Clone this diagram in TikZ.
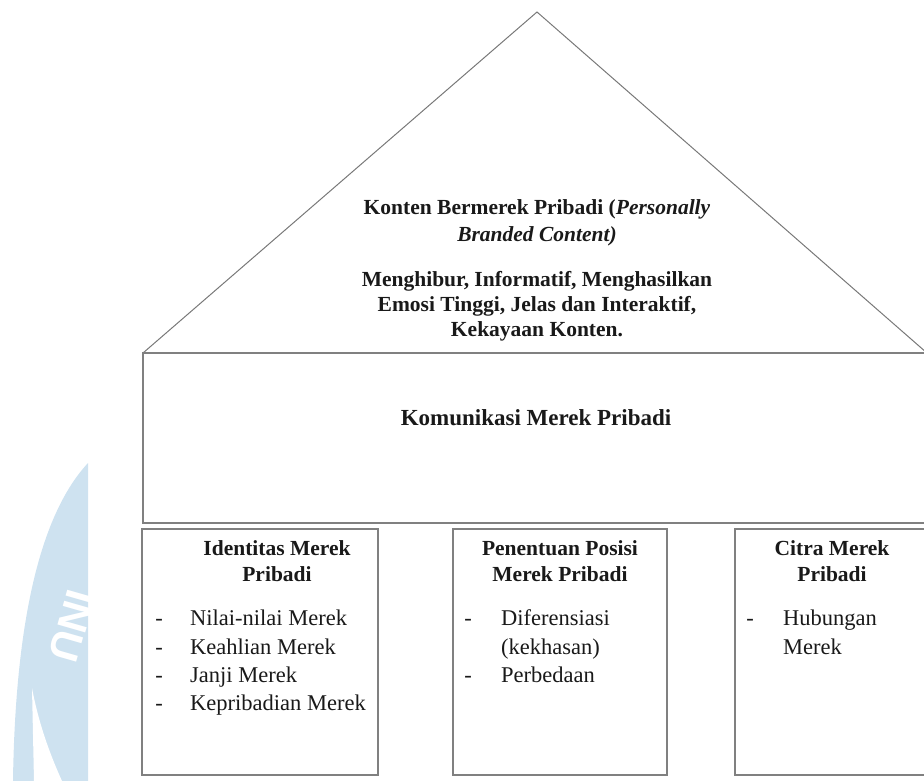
\documentclass[tikz,border=0pt]{standalone}
\usepackage{fontspec}
\setmainfont{Liberation Serif}
\newfontfamily\wmfont{Liberation Sans}
\definecolor{linegray}{RGB}{128,128,128}
\definecolor{trigray}{RGB}{120,120,120}
\definecolor{wmblue}{RGB}{206,226,240}
\definecolor{txt}{RGB}{25,25,25}
\begin{document}
\begin{tikzpicture}[x=1pt,y=-1pt,
  frame/.style={draw=linegray, line width=1.6pt, inner sep=0pt},
  tri/.style={draw=trigray, line width=1pt, line join=miter},
  bt/.style={font=\fontsize{21.5}{26}\selectfont\bfseries, text=txt, anchor=base, inner sep=0pt},
  kt/.style={font=\fontsize{23}{28}\selectfont\bfseries, text=txt, anchor=base, inner sep=0pt},
  lt/.style={font=\fontsize{22.5}{28}\selectfont, text=txt, anchor=base west, inner sep=0pt},
  dt/.style={font=\fontsize{22.5}{28}\selectfont, text=txt, anchor=base, inner sep=0pt}]
\useasboundingbox (0,0) rectangle (924,781);
\clip (0,0) rectangle (924,781);
% watermark
\begin{scope}
  \clip (0,0) rectangle (88,781);
  \fill[wmblue] (88,463) .. controls (35,520) and (15,640) .. (13,781) -- (88,781) -- cycle;
  \fill[white] (32,688) -- (34,781) -- (62,781) .. controls (48,750) and (38,720) .. cycle;
  \node[text=white, font=\fontsize{42}{42}\selectfont\wmfont\bfseries, rotate=-106, inner sep=0pt] (wm) at (72,626) {INU};
\end{scope}
% roof triangle
\coordinate (apex) at (537,12);
\coordinate (tl) at (143,353);
\coordinate (tr) at (927,353);
\draw[tri] (tl) -- (apex) -- (tr);
% main rectangle
\node[frame, minimum width=784pt, minimum height=170pt] (kom) at (535,438) {};
% bottom boxes
\node[frame, minimum width=236pt, minimum height=246pt] (b1) at (260,652) {};
\node[frame, minimum width=214pt, minimum height=246pt] (b2) at (560,652) {};
\node[frame, minimum width=214pt, minimum height=246pt] (b3) at (842,652) {};
% roof text
\node[bt] (r1) at (537,214) {Konten Bermerek Pribadi (\textit{Personally}};
\node[bt] (r2) at (537,241) {\textit{Branded Content)}};
\node[bt] (r3) at (537,286) {Menghibur, Informatif, Menghasilkan};
\node[bt] (r4) at (537,311) {Emosi Tinggi, Jelas dan Interaktif,};
\node[bt] (r5) at (537,336) {Kekayaan Konten.};
% middle text
\node[kt] (k1) at (536,425) {Komunikasi Merek Pribadi};
% box 1
\node[bt] (h11) at (277,555) {Identitas Merek};
\node[bt] (h12) at (277,581) {Pribadi};
\node[dt] (d11) at (159,625) {-};
\node[lt] (l11) at (190,625) {Nilai-nilai Merek};
\node[dt] (d12) at (159,654) {-};
\node[lt] (l12) at (190,654) {Keahlian Merek};
\node[dt] (d13) at (159,682) {-};
\node[lt] (l13) at (190,682) {Janji Merek};
\node[dt] (d14) at (159,710) {-};
\node[lt] (l14) at (190,710) {Kepribadian Merek};
% box 2
\node[bt] (h21) at (560,555) {Penentuan Posisi};
\node[bt] (h22) at (560,581) {Merek Pribadi};
\node[dt] (d21) at (468,625) {-};
\node[lt] (l21) at (501,625) {Diferensiasi};
\node[lt] (l22) at (501,654) {(kekhasan)};
\node[dt] (d23) at (468,682) {-};
\node[lt] (l23) at (501,682) {Perbedaan};
% box 3
\node[bt] (h31) at (832,555) {Citra Merek};
\node[bt] (h32) at (832,581) {Pribadi};
\node[dt] (d31) at (750,625) {-};
\node[lt] (l31) at (783,625) {Hubungan};
\node[lt] (l32) at (783,654) {Merek};
\end{tikzpicture}
\end{document}
